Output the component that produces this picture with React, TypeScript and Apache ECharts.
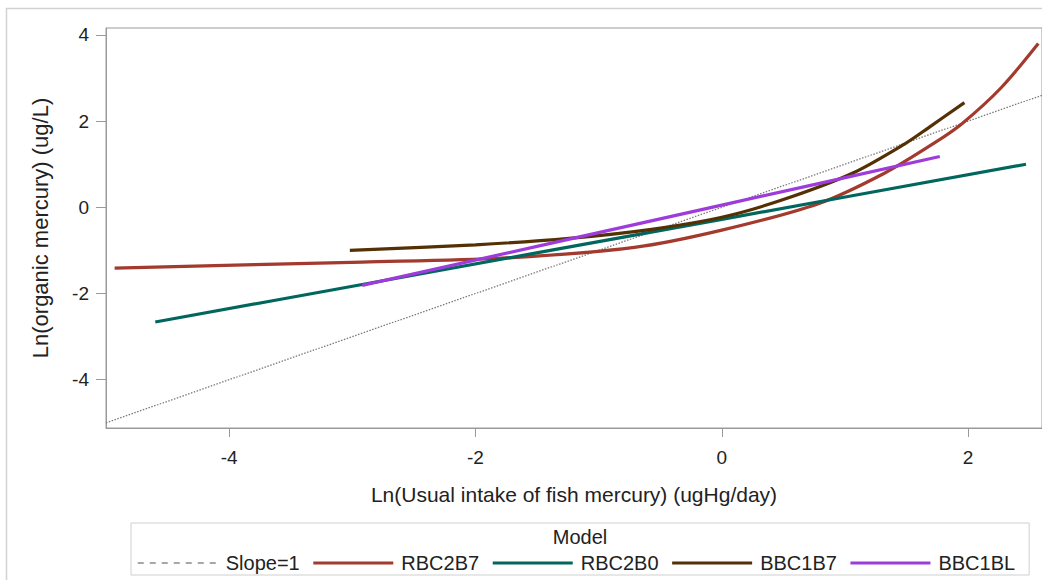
import React, { useEffect, useRef } from "react";
import * as echarts from "echarts";

// ---- Data ----
const xTicks = [-4, -2, 0, 2];
const yTicks = [-4, -2, 0, 2, 4];

const seriesNames = ["Slope=1", "RBC2B7", "RBC2B0", "BBC1B7", "BBC1BL"];

const slopeLine: number[][] = [
  [-5, -5],
  [2.6, 2.6],
];
const rbc2b7: number[][] = [
  [-4.93, -1.41],
  [-2.92, -1.27],
  [-1.79, -1.18],
  [-0.71, -0.93],
  [0, -0.53],
  [0.79, 0.09],
  [1.32, 0.79],
  [1.73, 1.5],
  [1.95, 1.94],
  [2.27, 2.78],
  [2.57, 3.8],
];
const rbc2b0: number[][] = [
  [-4.6, -2.66],
  [-2.92, -1.79],
  [0, -0.28],
  [2.47, 1.0],
];
const bbc1b7: number[][] = [
  [-3.02, -1.0],
  [-2, -0.87],
  [-1.24, -0.72],
  [-0.57, -0.51],
  [0, -0.23],
  [0.5, 0.18],
  [1.06, 0.79],
  [1.49, 1.48],
  [1.68, 1.85],
  [1.97, 2.43],
];
const bbc1bl: number[][] = [
  [-2.92, -1.81],
  [0, 0.05],
  [1.77, 1.18],
];

const colors = ["#7a7a7a", "#A23A2E", "#01665E", "#543005", "#9D3CDB"];

export default function App() {
  const ref = useRef<HTMLDivElement>(null);

  useEffect(() => {
    document.body.style.margin = "0";
    if (!ref.current) return;
    const chart = echarts.init(ref.current, null, { renderer: "svg" });
    const font = "'Liberation Sans', Arial, sans-serif";
    const textColor = "#222";
    const axisColor = "#9a9a9a";

    const dataSets = [slopeLine, rbc2b7, rbc2b0, bbc1b7, bbc1bl];

    chart.setOption({
      animation: false,
      backgroundColor: "#fff",
      textStyle: { fontFamily: font },
      grid: {
        left: 106,
        top: 28,
        right: -2,
        bottom: 152,
        show: true,
        borderColor: axisColor,
        borderWidth: 1,
        containLabel: false,
      },
      xAxis: {
        type: "value",
        min: -5,
        max: 2.6,
        name: "Ln(Usual intake of fish mercury) (ugHg/day)",
        nameLocation: "middle",
        nameGap: 56,
        nameTextStyle: { fontSize: 21, color: textColor, fontFamily: font },
        axisLine: { show: true, onZero: false, lineStyle: { color: axisColor } },
        axisTick: {
          show: true,
          length: 9,
          customValues: xTicks,
          lineStyle: { color: axisColor },
        },
        axisLabel: {
          customValues: xTicks,
          fontSize: 19,
          color: textColor,
          margin: 20,
          fontFamily: font,
        },
        splitLine: { show: false },
      },
      yAxis: {
        type: "value",
        min: -5.12,
        max: 4.16,
        name: "Ln(organic mercury) (ug/L)",
        nameLocation: "middle",
        nameGap: 55,
        nameTextStyle: { fontSize: 22, color: textColor, fontFamily: font },
        axisLine: { show: true, onZero: false, lineStyle: { color: axisColor } },
        axisTick: {
          show: true,
          length: 10,
          customValues: yTicks,
          lineStyle: { color: axisColor },
        },
        axisLabel: {
          customValues: yTicks,
          fontSize: 19,
          color: textColor,
          margin: 17,
          fontFamily: font,
        },
        splitLine: { show: false },
      },
      legend: {
        left: 131,
        top: 523,
        orient: "horizontal",
        padding: [30, 14, 2, 6],
        borderColor: "#cfcfcf",
        borderWidth: 1,
        itemWidth: 80,
        itemHeight: 4,
        itemGap: 12,
        itemStyle: { opacity: 0, borderWidth: 0 },
        textStyle: {
          fontSize: 20,
          color: textColor,
          fontFamily: font,
          lineHeight: 20,
          padding: [0, 0, 0, 3],
        },
        data: seriesNames.map((n, i) =>
          i === 0
            ? { name: n, lineStyle: { type: [6, 6], width: 1.5, color: "#8a8a8a" } }
            : { name: n, lineStyle: { width: 3.2, color: colors[i] } }
        ),
      },
      graphic: [
        {
          type: "rect",
          shape: { x: 6.5, y: 8.5, width: 1200, height: 700 },
          style: { fill: "none", stroke: "#d2d2d2", lineWidth: 1.5 },
          silent: true,
          z: -1,
        },
        {
          type: "text",
          x: 580,
          y: 537,
          style: {
            text: "Model",
            fontSize: 20,
            fontFamily: font,
            fill: textColor,
            align: "center",
            verticalAlign: "middle",
          },
        },
      ],
      series: seriesNames.map((n, i) => ({
        name: n,
        type: "line",
        data: dataSets[i],
        symbol: "none",
        showSymbol: false,
        smooth: i === 0 ? false : 0.3,
        z: i === 0 ? 1 : 2 + i,
        lineStyle:
          i === 0
            ? { color: colors[0], width: 1.3, type: [1.5, 1.5] }
            : { color: colors[i], width: 3.2 },
        itemStyle: { color: colors[i] },
      })),
    });

    return () => chart.dispose();
  }, []);

  return <div ref={ref} style={{ width: 1042, height: 580 }} />;
}
